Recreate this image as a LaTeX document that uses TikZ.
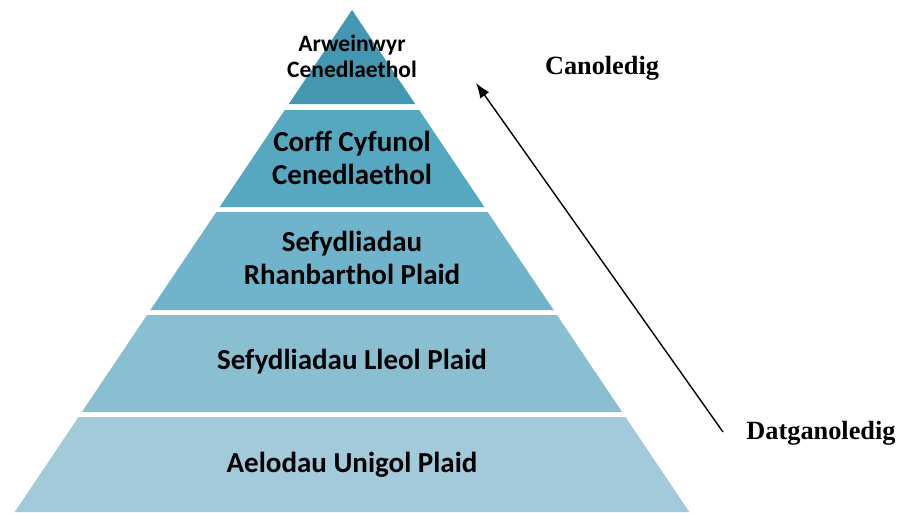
\documentclass[tikz,border=0pt]{standalone}
\usepackage{fontspec}
\usetikzlibrary{arrows.meta}
\setmainfont{Carlito}
\newfontfamily\serifb{Liberation Serif}
\definecolor{tierA}{RGB}{67,151,177}
\definecolor{tierB}{RGB}{86,167,192}
\definecolor{tierC}{RGB}{111,180,202}
\definecolor{tierD}{RGB}{138,191,210}
\definecolor{tierE}{RGB}{162,202,218}
\begin{document}
\begin{tikzpicture}[x=1pt,y=-1pt,
  tiertext/.style={font=\bfseries\fontsize{29}{32.5}\selectfont,align=center,text=black,inner sep=0pt},
  sidelabel/.style={font=\serifb\bfseries\fontsize{26.3}{30}\selectfont,text=black,inner sep=0pt}]
\useasboundingbox (0,0) rectangle (899,512);
\fill[tierA] (352,10) -- (415.2,104) -- (288.8,104) -- cycle;
\fill[tierB] (284.8,110) -- (419.2,110) -- (484.4,207) -- (219.6,207) -- cycle;
\fill[tierC] (216.3,212) -- (487.7,212) -- (553.6,310) -- (150.4,310) -- cycle;
\fill[tierD] (147,315) -- (557,315) -- (622.1,412) -- (81.9,412) -- cycle;
\fill[tierE] (78.5,417) -- (625.5,417) -- (689.3,512) -- (14.7,512) -- cycle;
\node[tiertext,font=\bfseries\fontsize{23.5}{26}\selectfont] (t1) at (352,56) {Arweinwyr\\Cenedlaethol};
\node[tiertext] (t2) at (352,158) {Corff Cyfunol\\Cenedlaethol};
\node[tiertext] (t3) at (352,258) {Sefydliadau\\Rhanbarthol Plaid};
\node[tiertext] (t4) at (352,362) {Sefydliadau Lleol Plaid};
\node[tiertext] (t5) at (352,465) {Aelodau Unigol Plaid};
\node[sidelabel] (can) at (602,68) {Canoledig};
\node[sidelabel] (dat) at (821,433) {Datganoledig};
\coordinate (lo) at (723,432);
\coordinate (hi) at (476,83);
\draw[line width=1.4pt,-{Latex[length=15pt,width=11pt]}] (lo) -- (hi);
\end{tikzpicture}
\end{document}
